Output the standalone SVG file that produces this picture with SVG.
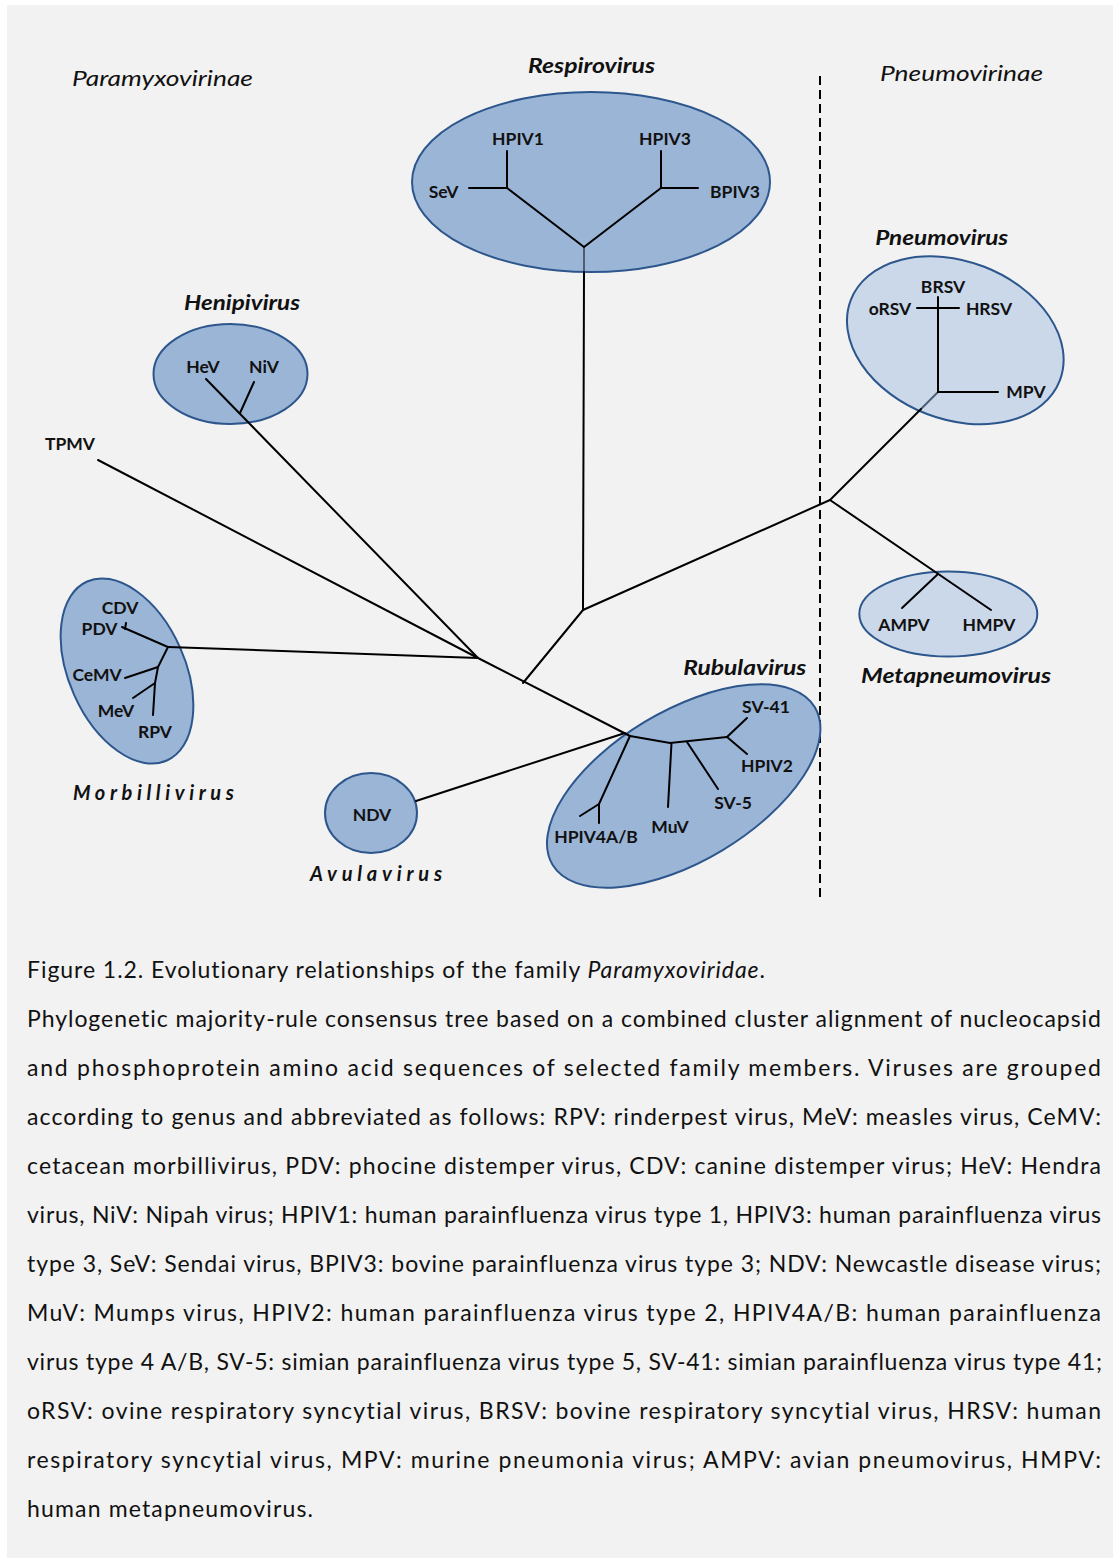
<svg xmlns="http://www.w3.org/2000/svg" width="1113" height="1559" viewBox="0 0 1113 1559">
<style>
text{font-variant-ligatures:none}
.bg{fill:#f2f2f2}
.cl{fill:#9bb5d6;stroke:#2c568c;stroke-width:2}
.cl2{fill:#cad8ea;stroke:#2c568c;stroke-width:2}
.br{stroke:#000;stroke-width:2;fill:none;stroke-linecap:round}
.brg{stroke:#4d5d73;stroke-width:2;fill:none}
.lb{font-family:Lato,"Open Sans",sans-serif;font-weight:bold;font-size:17.5px;fill:#111;text-anchor:middle}
.gn{font-family:Lato,"Open Sans",sans-serif;font-weight:bold;font-style:italic;font-size:20px;fill:#111;text-anchor:middle}
.sf{font-family:Lato,"Open Sans",sans-serif;font-style:italic;font-size:21px;fill:#111}
.cap{font-family:Lato,"Open Sans",sans-serif;font-size:23px;fill:#111}
</style>
<rect class="bg" x="7" y="5" width="1106" height="1553"/>

<text class="sf" x="72" y="86" textLength="181" lengthAdjust="spacingAndGlyphs">Paramyxovirinae</text>
<text class="sf" x="880" y="81" textLength="163" lengthAdjust="spacingAndGlyphs">Pneumovirinae</text>
<line x1="820" y1="76" x2="820" y2="902" stroke="#000" stroke-width="2" stroke-dasharray="9 5"/>

<g id="respirovirus">
<ellipse class="cl" cx="591" cy="182" rx="179" ry="90"/>
<line class="brg" x1="584" y1="247" x2="584" y2="272"/>
<polyline class="br" points="507,188 584,247 661,188"/>
<polyline class="br" points="469,188 507,188 507,151"/>
<polyline class="br" points="698,188 661,188 661,151"/>
<text class="lb" x="518" y="145">HPIV1</text>
<text class="lb" x="665" y="145">HPIV3</text>
<text class="lb" x="443.5" y="198">SeV</text>
<text class="lb" x="735" y="198">BPIV3</text>
<text class="gn" x="591.5" y="73" textLength="127" lengthAdjust="spacingAndGlyphs">Respirovirus</text>
</g>

<g id="henipivirus">
<ellipse class="cl" cx="230.5" cy="374" rx="77" ry="50"/>
<line class="br" x1="254" y1="382" x2="240" y2="413"/>
<text class="lb" x="203" y="373">HeV</text>
<text class="lb" x="264" y="373">NiV</text>
<text class="gn" x="242" y="310" textLength="116" lengthAdjust="spacingAndGlyphs">Henipivirus</text>
</g>

<g id="tpmv">
<text class="lb" x="70" y="450">TPMV</text>
</g>

<g id="morbillivirus">
<ellipse class="cl" cx="127" cy="671" rx="58" ry="98" transform="rotate(-24 127 671)"/>
<polyline class="br" points="122,627 168,647 158,667 155,683 153,715"/>
<line class="br" x1="158" y1="667" x2="125" y2="678"/>
<line class="br" x1="155" y1="683" x2="133" y2="698"/>
<line class="br" x1="125" y1="629" x2="126" y2="623"/>
<text class="lb" x="120" y="614">CDV</text>
<text class="lb" x="99.5" y="635">PDV</text>
<text class="lb" x="97" y="681">CeMV</text>
<text class="lb" x="116" y="717">MeV</text>
<text class="lb" x="155" y="738">RPV</text>
<text class="gn" x="153.4" y="800" textLength="161" lengthAdjust="spacing">Morbillivirus</text>
</g>

<g id="avulavirus">
<ellipse class="cl" cx="371" cy="813" rx="46" ry="40"/>
<text class="lb" x="372" y="821">NDV</text>
<text class="gn" x="376" y="881" textLength="132" lengthAdjust="spacing">Avulavirus</text>
</g>

<g id="rubulavirus">
<ellipse class="cl" cx="683.7" cy="786" rx="153" ry="75" transform="rotate(-31 683.7 786)"/>
<polyline class="br" points="630,736 670,743 727,737"/>
<polyline class="br" points="630,736 599,804 599,823"/>
<line class="br" x1="599" y1="804" x2="580" y2="816"/>
<line class="br" x1="671.5" y1="743" x2="668" y2="807"/>
<line class="br" x1="687" y1="742" x2="718" y2="789"/>
<polyline class="br" points="747,718 727,737 747,754"/>
<text class="lb" x="766" y="713">SV-41</text>
<text class="lb" x="767" y="772">HPIV2</text>
<text class="lb" x="733" y="809">SV-5</text>
<text class="lb" x="670" y="833">MuV</text>
<text class="lb" x="596" y="843">HPIV4A/B</text>
<text class="gn" x="744.7" y="675" textLength="123" lengthAdjust="spacingAndGlyphs">Rubulavirus</text>
</g>

<g id="pneumovirus">
<ellipse class="cl2" cx="955.3" cy="340.3" rx="112" ry="79" transform="rotate(21 955.3 340.3)"/>
<line class="brg" x1="938" y1="392" x2="921" y2="409"/>
<polyline class="br" points="938,297 938,392 998,392"/>
<line class="br" x1="917" y1="308" x2="959" y2="308"/>
<text class="lb" x="943" y="293">BRSV</text>
<text class="lb" x="890" y="315">oRSV</text>
<text class="lb" x="989" y="315">HRSV</text>
<text class="lb" x="1026" y="398">MPV</text>
<text class="gn" x="941.7" y="245" textLength="133" lengthAdjust="spacingAndGlyphs">Pneumovirus</text>
</g>

<g id="metapneumovirus">
<ellipse class="cl2" cx="948.3" cy="614" rx="89" ry="42.5"/>
<line class="br" x1="938" y1="574" x2="902" y2="608"/>
<text class="lb" x="904" y="631">AMPV</text>
<text class="lb" x="989" y="631">HMPV</text>
<text class="gn" x="956" y="683" textLength="190" lengthAdjust="spacingAndGlyphs">Metapneumovirus</text>
</g>

<g id="connectors">
<line class="br" x1="584" y1="272" x2="583" y2="610"/>
<line class="br" x1="583" y1="610" x2="523" y2="683"/>
<line class="br" x1="583" y1="610" x2="830" y2="500"/>
<line class="br" x1="478" y1="658" x2="630" y2="736"/>
<line class="br" x1="416" y1="801" x2="625" y2="733"/>
<line class="br" x1="98" y1="460" x2="478" y2="658"/>
<line class="br" x1="206" y1="379" x2="478" y2="658"/>
<line class="br" x1="168" y1="647" x2="478" y2="658"/>
<line class="br" x1="830" y1="500" x2="921" y2="409"/>
<line class="br" x1="830" y1="500" x2="991" y2="610"/>
</g>

<g id="caption">
<text class="cap" x="27" y="978" textLength="738" lengthAdjust="spacing">Figure 1.2. Evolutionary relationships of the family <tspan font-style="italic">Paramyxoviridae</tspan>.</text>
<text class="cap" x="27" y="1027" textLength="1074" lengthAdjust="spacing">Phylogenetic majority-rule consensus tree based on a combined cluster alignment of nucleocapsid</text>
<text class="cap" x="27" y="1076" textLength="1074" lengthAdjust="spacing">and phosphoprotein amino acid sequences of selected family members. Viruses are grouped</text>
<text class="cap" x="27" y="1125" textLength="1074" lengthAdjust="spacing">according to genus and abbreviated as follows: RPV: rinderpest virus, MeV: measles virus, CeMV:</text>
<text class="cap" x="27" y="1174" textLength="1074" lengthAdjust="spacing">cetacean morbillivirus, PDV: phocine distemper virus, CDV: canine distemper virus; HeV: Hendra</text>
<text class="cap" x="27" y="1223" textLength="1074" lengthAdjust="spacing">virus, NiV: Nipah virus; HPIV1: human parainfluenza virus type 1, HPIV3: human parainfluenza virus</text>
<text class="cap" x="27" y="1272" textLength="1074" lengthAdjust="spacing">type 3, SeV: Sendai virus, BPIV3: bovine parainfluenza virus type 3; NDV: Newcastle disease virus;</text>
<text class="cap" x="27" y="1321" textLength="1074" lengthAdjust="spacing">MuV: Mumps virus, HPIV2: human parainfluenza virus type 2, HPIV4A/B: human parainfluenza</text>
<text class="cap" x="27" y="1370" textLength="1075" lengthAdjust="spacing">virus type 4 A/B, SV-5: simian parainfluenza virus type 5, SV-41: simian parainfluenza virus type 41;</text>
<text class="cap" x="27" y="1419" textLength="1074" lengthAdjust="spacing">oRSV: ovine respiratory syncytial virus, BRSV: bovine respiratory syncytial virus, HRSV: human</text>
<text class="cap" x="27" y="1468" textLength="1074" lengthAdjust="spacing">respiratory syncytial virus, MPV: murine pneumonia virus; AMPV: avian pneumovirus, HMPV:</text>
<text class="cap" x="27" y="1517" textLength="286" lengthAdjust="spacing">human metapneumovirus.</text>
</g>
</svg>
